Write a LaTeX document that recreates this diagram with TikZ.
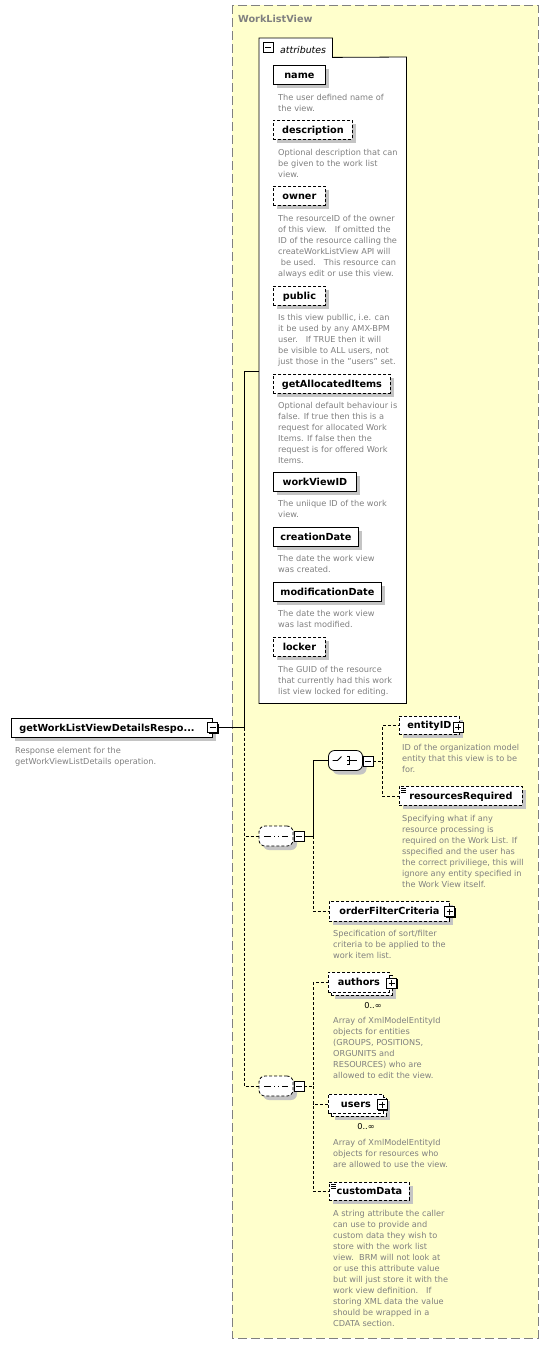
\documentclass[tikz,border=0pt]{standalone}
\usepackage{fontspec}
\setmainfont{DejaVu Sans}
\usetikzlibrary{shadows}

\definecolor{groupfill}{RGB}{255,255,204}
\definecolor{groupline}{RGB}{128,128,128}
\definecolor{desctext}{RGB}{128,128,128}
\definecolor{shadowgrey}{RGB}{196,196,196}

\newcommand\descfont{\fontsize{8.2}{11}\selectfont}
\newcommand\elemfont{\fontsize{9.7}{12}\selectfont\bfseries}

\tikzset{
  conn/.style={line width=0.8pt},
  optional/.style={dash pattern=on 3pt off 2pt},
  elbase/.style={draw, fill=white, line width=0.8pt, anchor=north west,
    font=\elemfont, minimum height=19pt, inner sep=0pt,
    text height=8pt, text depth=1pt},
  elem/.style={elbase, drop shadow={shadow xshift=4pt, shadow yshift=-4pt,
    fill=shadowgrey, opacity=1}},
  simpletype/.style={path picture={
    \foreach \k in {2,4,6}
      \draw[solid, line width=0.6pt] ([shift={(2pt,-\k pt)}]path picture bounding box.north west) -- ++(5pt,0pt);}},
  % anchored at the baseline of the last line
  desc/.style={anchor=base west, align=left, inner sep=0pt, font=\descfont, text=desctext},
  occurs/.style={anchor=base, inner sep=0pt, font=\descfont},
  pmbox/.style={draw, fill=white, solid, line width=0.8pt, minimum size=10pt, inner sep=0pt,
    drop shadow={shadow xshift=1pt, shadow yshift=-1pt, fill=black, opacity=1}},
  minusbox/.style={pmbox, path picture={
    \draw[line width=0.9pt] ([xshift=2pt]path picture bounding box.west) -- ([xshift=-2pt]path picture bounding box.east);}},
  plusbox/.style={pmbox, path picture={
    \draw[line width=0.9pt] ([xshift=2pt]path picture bounding box.west) -- ([xshift=-2pt]path picture bounding box.east)
      ([yshift=-2pt]path picture bounding box.north) -- ([yshift=2pt]path picture bounding box.south);}},
  compositor/.style={rectangle, rounded corners=6pt, draw, fill=white,
    line width=0.8pt, minimum width=34pt, minimum height=20pt, inner sep=0pt,
    drop shadow={shadow xshift=4pt, shadow yshift=-4pt, fill=shadowgrey, opacity=1}},
  seqsym/.style={path picture={
    \draw[solid, sharp corners, line width=0.9pt] ([xshift=-12pt]path picture bounding box.center) -- ([xshift=12pt]path picture bounding box.center);
    \foreach \dx in {-4,0,4}
      \fill[sharp corners] ([shift={(\dx pt-1.5pt,-1.8pt)}]path picture bounding box.center) rectangle ++(3pt,3.6pt);}},
  choicesym/.style={path picture={
    \draw[solid, sharp corners, line width=0.8pt] ([xshift=-13pt]path picture bounding box.center) -- ([xshift=-8pt]path picture bounding box.center)
      -- ([shift={(-4pt,4pt)}]path picture bounding box.center);
    \foreach \dy in {-4,0,4}
      \fill[sharp corners] ([shift={(-2pt,\dy pt-1.2pt)}]path picture bounding box.center) rectangle ++(2.6pt,2.4pt);
    \draw[solid, sharp corners, line width=0.8pt] ([shift={(1.5pt,4pt)}]path picture bounding box.center) -- ([shift={(4pt,4pt)}]path picture bounding box.center)
      -- ([shift={(4pt,-4pt)}]path picture bounding box.center) -- ([shift={(1.5pt,-4pt)}]path picture bounding box.center)
      ([xshift=1.5pt]path picture bounding box.center) -- ([xshift=11pt]path picture bounding box.center);}}
}

\begin{document}
\begin{tikzpicture}[x=1pt,y=-1pt]
  \fill[white] (0,0) rectangle (549,1345);
  \useasboundingbox (0,0) rectangle (549,1345);

  % complex type group
  \draw[groupline, fill=groupfill, line width=0.8pt, dash pattern=on 9pt off 4pt] (232,5) rectangle (538,1338);
  \node[anchor=base west, inner sep=0pt, font=\elemfont, text=groupline] (title) at (238,22) {WorkListView};

  % attributes
  \node[fill=white, anchor=north west, minimum width=147pt, minimum height=646pt, inner sep=0pt] (attrs) at (259,57) {};
  \node[fill=white, anchor=north west, minimum width=73pt, minimum height=19pt, inner sep=0pt] (attrtab) at (259,38) {};
  \draw[line width=0.8pt] (attrs.south west) -- (attrtab.north west) -- (attrtab.north east)
    -- (attrtab.south east) -- (attrs.north east) -- (attrs.south east) -- cycle;
  \node[minusbox] (attrmin) at (268,47) {};
  \node[anchor=base west, inner sep=0pt, font=\fontsize{9.4}{11}\selectfont\itshape] (attrlabel) at (280,53) {attributes};

  \node[elem, minimum width=52pt] (name) at (273,65) {name};
  \node[desc] (dname) at (278,111) {The user defined name of\\the view.};
  \node[elem, optional, minimum width=79pt] (descr) at (273,120) {description};
  \node[desc] (ddescr) at (278,177) {Optional description that can\\be given to the work list\\view.};
  \node[elem, optional, minimum width=52pt] (owner) at (273,186) {owner};
  \node[desc] (downer) at (278,276) {The resourceID of the owner\\of this view.\ \ \ If omitted the\\ID of the resource calling the\\createWorkListView API will\\\ be used.\ \ \ This resource can\\always edit or use this view.};
  \node[elem, optional, minimum width=52pt] (public) at (273,286) {public};
  \node[desc] (dpublic) at (278,364) {Is this view publlic, i.e. can\\it be used by any AMX-BPM\\user.\ \ \ If TRUE then it will\\be visible to ALL users, not\\just those in the "users" set.};
  \node[elem, optional, minimum width=117pt] (getalloc) at (273,374) {getAllocatedItems};
  \node[desc] (dgetalloc) at (278,463) {Optional default behaviour is\\false. If true then this is a\\request for allocated Work\\Items. If false then the\\request is for offered Work\\Items.};
  \node[elem, minimum width=83pt] (wvid) at (273,472) {workViewID};
  \node[desc] (dwvid) at (278,517) {The uniique ID of the work\\view.};
  \node[elem, minimum width=85pt] (creat) at (273,527) {creationDate};
  \node[desc] (dcreat) at (278,572) {The date the work view\\was created.};
  \node[elem, minimum width=108pt] (modif) at (273,582) {modificationDate};
  \node[desc] (dmodif) at (278,627) {The date the work view\\was last modified.};
  \node[elem, optional, minimum width=52pt] (locker) at (273,637) {locker};
  \node[desc] (dlocker) at (278,694) {The GUID of the resource\\that currently had this work\\list view locked for editing.};

  % root element
  \node[elem, text width=185pt, inner xsep=8pt] (root) at (11,718) {getWorkListViewDetailsRespo...};
  \node[minusbox] (rootmin) at (212.5,727.5) {};
  \node[desc] (droot) at (15,764) {Response element for the\\getWorkViewListDetails operation.};

  % first sequence with choice
  \node[compositor, optional, seqsym] (seqa) at (276,836) {};
  \node[minusbox] (seqamin) at (299,836) {};
  \node[compositor, choicesym] (choice) at (345.5,760.5) {};
  \node[minusbox] (choicemin) at (368,761) {};

  \node[elem, optional, minimum width=60pt, minimum height=18pt] (entity) at (399,716) {entityID};
  \node[plusbox] (entityplus) at (458,727) {};
  \node[desc] (dentity) at (402,772) {ID of the organization model\\entity that this view is to be\\for.};
  \node[elem, optional, simpletype, minimum width=123pt] (resreq) at (399,786) {resourcesRequired};
  \node[desc] (dresreq) at (402,887) {Specifying what if any\\resource processing is\\required on the Work List. If\\sspecified and the user has\\the correct priviliege, this will\\ignore any entity specified in\\the Work View itself.};

  \node[elem, optional, minimum width=120pt, minimum height=20pt] (ofc) at (329,901) {orderFilterCriteria};
  \node[plusbox] (ofcplus) at (449.5,911.5) {};
  \node[desc] (dofc) at (333,958) {Specification of sort/filter\\criteria to be applied to the\\work item list.};

  % second sequence
  \node[compositor, optional, seqsym] (seqb) at (276,1086) {};
  \node[minusbox] (seqbmin) at (299,1086) {};

  \node[elem, optional, minimum width=61pt, minimum height=20pt] (authback) at (331,975) {};
  \node[elbase, optional, minimum width=61pt, minimum height=20pt] (authors) at (328,972) {authors};
  \node[plusbox] (authplus) at (391.5,983) {};
  \node[occurs] (authocc) at (373,1008) {0..∞};
  \node[desc] (dauth) at (333,1078) {Array of XmlModelEntityId\\objects for entities\\(GROUPS, POSITIONS,\\ORGUNITS and\\RESOURCES) who are\\allowed to edit the view.};

  \node[elem, optional, minimum width=55pt] (userback) at (331,1097) {};
  \node[elbase, optional, minimum width=55pt] (users) at (328,1094) {users};
  \node[plusbox] (userplus) at (382,1104.5) {};
  \node[occurs] (userocc) at (366,1129) {0..∞};
  \node[desc] (dusers) at (333,1167) {Array of XmlModelEntityId\\objects for resources who\\are allowed to use the view.};

  \node[elem, optional, simpletype, minimum width=80pt, minimum height=18pt] (custom) at (329,1182) {customData};
  \node[desc] (dcustom) at (333,1326) {A string attribute the caller\\can use to provide and\\custom data they wish to\\store with the work list\\view.\ \ BRM will not look at\\or use this attribute value\\but will just store it with the\\work view definition.\ \ \ If\\storing XML data the value\\should be wrapped in a\\CDATA section.};

  % connectors
  \coordinate (j1) at (244,727.5);
  \coordinate (ajoin) at (259,371);
  \coordinate (j2) at (313,836);
  \coordinate (j3) at (382,761);
  \coordinate (j4) at (313,1086);

  \draw[conn] (rootmin.east) -- (j1) |- (ajoin);
  \draw[conn, optional] (j1) |- (seqa.west);
  \draw[conn, optional] (j1) |- (seqb.west);
  \draw[conn] (seqamin.east) -- (j2) |- (choice.west);
  \draw[conn, optional] (j2) |- (ofc.west);
  \draw[conn, optional] (choicemin.east) -- (j3) |- (entity.west);
  \draw[conn, optional] (j3) |- (resreq.west);
  \draw[conn, optional] (seqbmin.east) -- (j4) |- (authors.west);
  \draw[conn, optional] (j4) |- (users.west);
  \draw[conn, optional] (j4) |- (custom.west);
\end{tikzpicture}
\end{document}
